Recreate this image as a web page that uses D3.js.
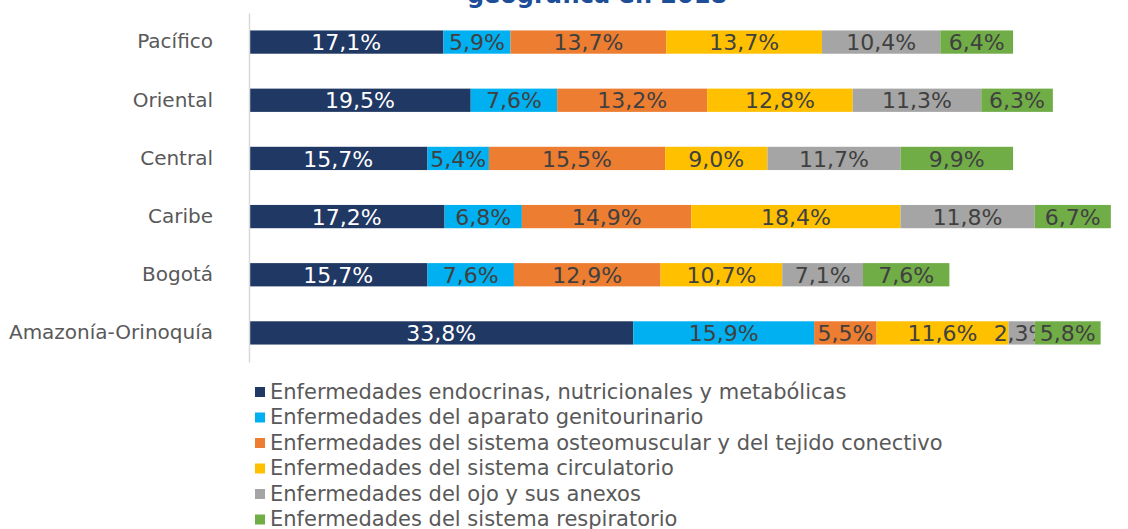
<!DOCTYPE html>
<html>
<head>
<meta charset="utf-8">
<script src="https://cdn.jsdelivr.net/npm/d3@7"></script>
<style>
  body { margin: 0; background: #fff; }
  svg { font-family: "DejaVu Sans", Verdana, sans-serif; }
</style>
</head>
<body>
<div id="container"></div>
<script>
/* DATA */
const regions = ["Pacífico", "Oriental", "Central", "Caribe", "Bogotá", "Amazonía-Orinoquía"];
const seriesNames = [
  "Enfermedades endocrinas, nutricionales y metabólicas",
  "Enfermedades del aparato genitourinario",
  "Enfermedades del sistema osteomuscular y del tejido conectivo",
  "Enfermedades del sistema circulatorio",
  "Enfermedades del ojo y sus anexos",
  "Enfermedades del sistema respiratorio"
];
const endocrinas   = [17.1, 19.5, 15.7, 17.2, 15.7, 33.8];
const genitourin   = [5.9, 7.6, 5.4, 6.8, 7.6, 15.9];
const osteomusc    = [13.7, 13.2, 15.5, 14.9, 12.9, 5.5];
const circulatorio = [13.7, 12.8, 9.0, 18.4, 10.7, 11.6];
const ojo          = [10.4, 11.3, 11.7, 11.8, 7.1, 2.3];
const respiratorio = [6.4, 6.3, 9.9, 6.7, 7.6, 5.8];
const seriesValues = [endocrinas, genitourin, osteomusc, circulatorio, ojo, respiratorio];
const colors = ["#203864", "#00B0F0", "#ED7D31", "#FFC000", "#A5A5A5", "#70AD47"];
const labelColors = ["#ffffff", "#404040", "#404040", "#404040", "#404040", "#404040"];
const titleText = "geográfica en 2018";

/* CONSTANTS */
const width = 1128, height = 529;
const margin = { left: 249, top: 13 };
const plotBottom = 362;

// build table for stack
const rows = regions.map((r, i) => {
  const o = { region: r };
  seriesNames.forEach((s, j) => { o[s] = seriesValues[j][i]; });
  return o;
});
const stacked = d3.stack().keys(seriesNames)(rows);

const xScale = d3.scaleLinear().domain([0, 10]).range([margin.left, margin.left + 113.7]);
const yScale = d3.scaleBand().domain(regions).range([margin.top, plotBottom]).paddingInner(0.6).paddingOuter(0.3);

const svg = d3.select("#container").append("svg")
  .attr("width", width)
  .attr("height", height);

// title (the upper part is cut off in the original too)
svg.append("text")
  .attr("x", 597)
  .attr("y", 3)
  .attr("text-anchor", "middle")
  .attr("font-weight", "bold")
  .attr("font-size", 24)
  .attr("fill", "#1F4E99")
  .text(titleText);

// bars
const groups = svg.selectAll("g.series")
  .data(stacked)
  .join("g")
  .attr("class", "series")
  .attr("fill", (d, i) => colors[i]);

groups.selectAll("rect")
  .data(d => d)
  .join("rect")
  .attr("x", d => xScale(d[0]))
  .attr("y", d => yScale(d.data.region))
  .attr("width", d => xScale(d[1]) - xScale(d[0]))
  .attr("height", yScale.bandwidth());

groups.each(function(s, i) {
  d3.select(this).selectAll("text")
    .data(s)
    .join("text")
    .attr("x", d => (xScale(d[0]) + xScale(d[1])) / 2)
    .attr("y", d => yScale(d.data.region) + yScale.bandwidth() / 2)
    .attr("dy", "0.37em")
    .attr("text-anchor", "middle")
    .attr("font-size", 22)
    .attr("fill", labelColors[i])
    .text(d => d3.format(".1f")(d[1] - d[0]).replace(".", ",") + "%");
});

// y axis
const yAxis = d3.axisLeft(yScale).tickSize(0).tickPadding(36);
const yAxisGroup = svg.append("g")
  .attr("transform", `translate(${margin.left}, 0)`)
  .call(yAxis);
yAxisGroup.select(".domain").attr("stroke", "#D9D9D9").attr("stroke-width", 1.5);
yAxisGroup.selectAll(".tick text")
  .attr("font-size", 20)
  .attr("fill", "#595959")
  .attr("font-family", "DejaVu Sans, Verdana, sans-serif");

// legend
const legend = svg.append("g").attr("transform", "translate(255, 391)");
const items = legend.selectAll("g")
  .data(seriesNames)
  .join("g")
  .attr("transform", (d, i) => `translate(0, ${i * 25.5})`);
items.append("rect")
  .attr("x", 0).attr("y", -4)
  .attr("width", 10).attr("height", 10)
  .attr("fill", (d, i) => colors[i]);
items.append("text")
  .attr("x", 15)
  .attr("y", 0)
  .attr("dy", "0.36em")
  .attr("font-size", 21)
  .attr("fill", "#595959")
  .text(d => d);
</script>
</body>
</html>
